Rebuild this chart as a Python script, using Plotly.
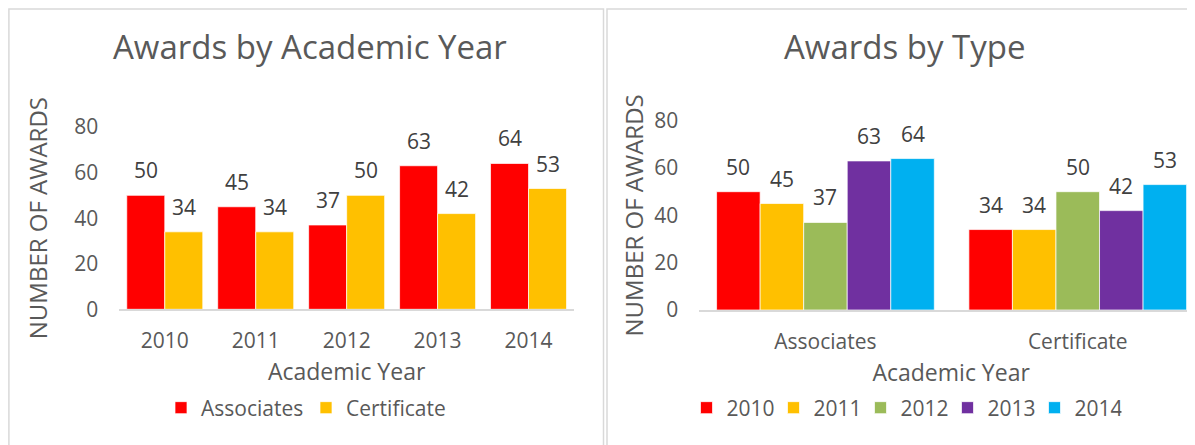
import plotly.graph_objects as go

# ---------------- data ----------------
years = ["2010", "2011", "2012", "2013", "2014"]
associates = [50, 45, 37, 63, 64]
certificate = [34, 34, 50, 42, 53]
award_types = ["Associates", "Certificate"]
year_colors = ["#FF0000", "#FFC000", "#9BBB59", "#7030A0", "#00B0F0"]
y_ticks = [0, 20, 40, 60, 80]

W, H = 1195, 445
OFF = 8  # page body margin
FONT = "Open Sans"
GREY = "#595959"
LABEL = "#404040"


def px_x(p):
    return (p - OFF) / W


def px_y(p):
    return 1 - (p - OFF) / H


fig = go.Figure()
annotations = []

# ---------------- left chart: by academic year ----------------
left_group = 0.836
lw = left_group / 2
left_series = [("Associates", associates, "#FF0000"), ("Certificate", certificate, "#FFC000")]
for k, (name, vals, col) in enumerate(left_series):
    off = -left_group / 2 + k * lw
    fig.add_trace(go.Bar(
        x=years, y=vals, name=name, width=lw, offset=off,
        marker=dict(color=col, line=dict(color="rgba(255,255,255,0.7)", width=1)),
        xaxis="x", yaxis="y", legend="legend", hoverinfo="x+y+name",
    ))
    for i, v in enumerate(vals):
        annotations.append(dict(
            x=i + off + lw / 2, y=v, xref="x", yref="y", text=str(v),
            showarrow=False, yanchor="middle", yshift=25,
            font=dict(family=FONT, size=21, color=LABEL),
        ))

# ---------------- right chart: by type ----------------
right_group = 0.863
rw = right_group / 5
right_values = [[a, c] for a, c in zip(associates, certificate)]
for k, (yr, vals) in enumerate(zip(years, right_values)):
    off = -right_group / 2 + k * rw
    fig.add_trace(go.Bar(
        x=award_types, y=vals, name=yr, width=rw, offset=off,
        marker=dict(color=year_colors[k], line=dict(color="rgba(255,255,255,0.7)", width=1)),
        xaxis="x2", yaxis="y2", legend="legend2", hoverinfo="x+y+name",
    ))
    for i, v in enumerate(vals):
        annotations.append(dict(
            x=i + off + rw / 2, y=v, xref="x2", yref="y2", text=str(v),
            showarrow=False, yanchor="middle", yshift=25,
            font=dict(family=FONT, size=21, color=LABEL),
        ))

# ---------------- titles ----------------
annotations.append(dict(
    text="Awards by Academic Year", x=px_x(310), y=px_y(46), xref="paper", yref="paper",
    showarrow=False, xanchor="center", yanchor="middle",
    font=dict(family=FONT, size=33, color=GREY)))
annotations.append(dict(
    text="Awards by Type", x=px_x(904), y=px_y(46), xref="paper", yref="paper",
    showarrow=False, xanchor="center", yanchor="middle",
    font=dict(family=FONT, size=33, color=GREY)))

tickfont = dict(family=FONT, size=21, color=GREY)
xtitle = dict(text="Academic Year", font=dict(family=FONT, size=23, color=GREY), standoff=11)


def ytitle(standoff):
    return dict(text="NUMBER OF AWARDS", font=dict(family=FONT, size=24, color=GREY), standoff=standoff)


yax = dict(range=[0, 80], tickvals=y_ticks, showgrid=False, zeroline=False, showline=False,
           tickfont=tickfont, ticks="", ticklabelstandoff=20, fixedrange=True)
xax = dict(showgrid=False, zeroline=False, showline=True, linecolor="#D9D9D9", linewidth=1.5,
           tickfont=tickfont, ticks="", ticklabelstandoff=12, title=xtitle, type="category")

fig.update_layout(
    width=W, height=H,
    margin=dict(l=0, r=0, t=0, b=0, autoexpand=False),
    paper_bgcolor="white", plot_bgcolor="white",
    barmode="overlay",
    font=dict(family=FONT, color=GREY),
    xaxis=dict(xax, domain=[px_x(119.3), px_x(574)], range=[-0.5, 4.5]),
    yaxis=dict(yax, domain=[px_y(309.3), px_y(127)], anchor="x", title=ytitle(19)),
    xaxis2=dict(xax, domain=[px_x(699.3), 1], range=[-0.5, -0.5 + (W + OFF - 699.3) / 252.3], anchor="y2"),
    yaxis2=dict(yax, domain=[px_y(310), px_y(120.7)], anchor="x2", title=ytitle(3)),
    legend=dict(orientation="h", x=px_x(306), y=px_y(408), xanchor="center", yanchor="middle",
                font=dict(family=FONT, size=21, color=GREY), entrywidth=100, entrywidthmode="pixels",
                traceorder="normal", bgcolor="rgba(0,0,0,0)"),
    legend2=dict(orientation="h", x=px_x(904), y=px_y(408), xanchor="center", yanchor="middle",
                 font=dict(family=FONT, size=21, color=GREY), entrywidth=42, entrywidthmode="pixels",
                 traceorder="normal", bgcolor="rgba(0,0,0,0)"),
    annotations=annotations,
    shapes=[
        dict(type="rect", xref="paper", yref="paper", x0=0.9 / W, x1=px_x(603.5),
             y0=-0.1, y1=1 - 0.9 / H, line=dict(color="#D9D9D9", width=1.5), layer="below"),
        dict(type="rect", xref="paper", yref="paper", x0=px_x(607), x1=1.1,
             y0=-0.1, y1=1 - 0.9 / H, line=dict(color="#D9D9D9", width=1.5), layer="below"),
    ],
    showlegend=True,
)

fig.write_html("out.html")
